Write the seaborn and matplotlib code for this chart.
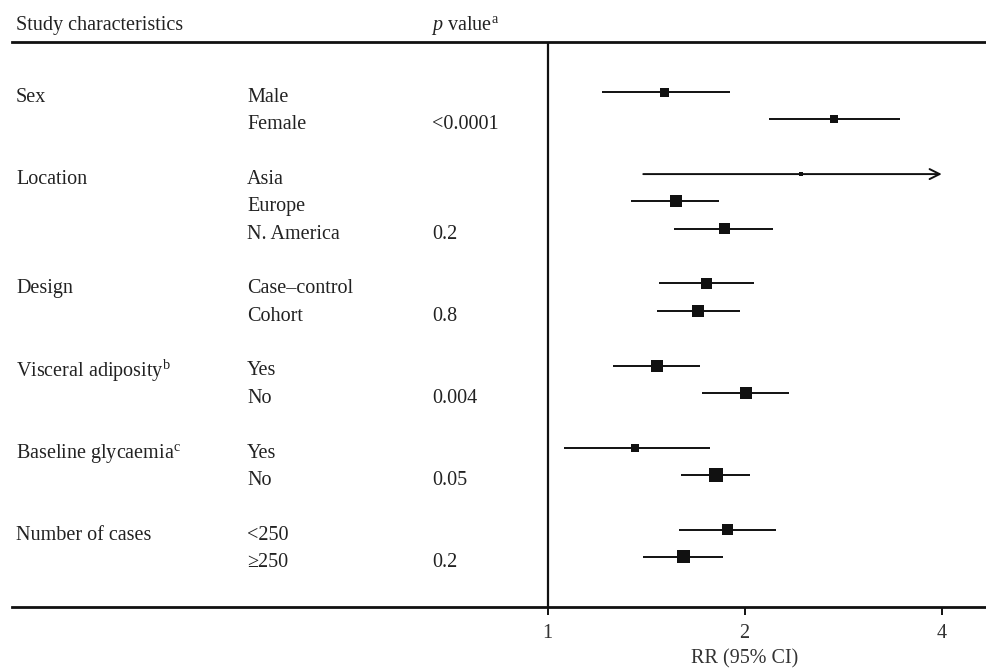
import numpy as np
import pandas as pd
import seaborn as sns
import matplotlib.pyplot as plt
from matplotlib.transforms import blended_transform_factory

sns.set_theme(style='white')
plt.rcParams['font.family'] = ['Liberation Serif', 'DejaVu Serif']
plt.rcParams['mathtext.fontset'] = 'custom'
plt.rcParams['mathtext.rm'] = 'Liberation Serif'
plt.rcParams['mathtext.it'] = 'Liberation Serif:italic'

# groups and subgroups
groups = ['Sex', 'Location', 'Design', 'Visceral adiposity$^{\\rm b}$',
          'Baseline glycaemia$^{\\rm c}$', 'Number of cases']
subgroups = [['Male', 'Female'],
             ['Asia', 'Europe', 'N. America'],
             ['Case\u2013control', 'Cohort'],
             ['Yes', 'No'],
             ['Yes', 'No'],
             ['<250', '\u2265250']]
p_values = ['<0.0001', '0.2', '0.8', '0.004', '0.05', '0.2']

# relative risks with 95% CI
rr = [1.51, 2.74, 2.44, 1.57, 1.86, 1.75, 1.70, 1.47, 2.01, 1.36, 1.81, 1.88, 1.61]
ci_low = [1.21, 2.18, 1.40, 1.34, 1.56, 1.48, 1.47, 1.26, 1.72, 1.06, 1.60, 1.59, 1.40]
ci_high = [1.90, 3.45, 5.20, 1.83, 2.21, 2.07, 1.97, 1.71, 2.34, 1.77, 2.04, 2.23, 1.85]
# box size (study weight), in pixels
box_px = [9, 8, 4, 12, 11, 11, 12, 12, 12, 8, 14, 11, 13]

x_max_shown = 4

# row positions: one blank row between groups
ypos = []
group_first = []
group_last = []
cursor = 0
for subs in subgroups:
    group_first.append(cursor)
    for i in range(len(subs)):
        ypos.append(cursor + i)
    group_last.append(cursor + len(subs) - 1)
    cursor += len(subs) + 1

df = pd.DataFrame({'rr': rr, 'lo': ci_low, 'hi': ci_high, 'y': ypos,
                   'box': box_px})

fig = plt.figure(figsize=(9.87, 6.70), dpi=100)
ax = fig.add_axes([12 / 987, 1 - 607 / 670, 975 / 987, 565 / 670])

ax.set_xscale('log', base=2)
ax.set_xlim(0.152, 4.69)
ax.set_ylim(18.83, -1.83)

ax.axvline(1, color='#111111', lw=1.6, zorder=1)

# confidence intervals
for _, r in df.iterrows():
    if r['hi'] > x_max_shown:
        ax.annotate('', xy=(x_max_shown, r['y']), xytext=(r['lo'], r['y']),
                    arrowprops=dict(arrowstyle='->', color='#111111', lw=1.4,
                                    mutation_scale=18, shrinkA=0, shrinkB=0))
    else:
        ax.hlines(r['y'], r['lo'], r['hi'], color='#111111', lw=1.4)

sns.scatterplot(data=df, x='rr', y='y', marker='s', s=(df['box'] * 0.72) ** 2,
                color='#111111', linewidth=0, ax=ax, zorder=3, legend=False)

# text columns
trans = blended_transform_factory(ax.transAxes, ax.transData)
col_group = 4 / 975
col_sub = 235 / 975
col_p = 420 / 975
fs = 14.5
dy = 0.2
txt = '#222222'
for g, subs, first, last, p in zip(groups, subgroups, group_first, group_last, p_values):
    ax.text(col_group, first + dy, g, transform=trans, fontsize=fs, va='center',
            color=txt)
    for i, s in enumerate(subs):
        ax.text(col_sub, first + i + dy, s, transform=trans, fontsize=fs,
                va='center', color=txt)
    ax.text(col_p, last + dy, p, transform=trans, fontsize=fs, va='center',
            color=txt)

ax.text(col_group, -2.45, 'Study characteristics', transform=trans, fontsize=fs,
        va='center', color=txt)
ax.text(419 / 975, -2.45, '$p$ value$^{\\rm a}$', transform=trans, fontsize=fs,
        va='center', color=txt)

# axes styling
ax.set_xticks([1, 2, 4])
ax.set_xticklabels(['1', '2', '4'])
ax.xaxis.set_minor_locator(plt.NullLocator())
ax.set_yticks([])
ax.tick_params(axis='x', bottom=True, direction='out', length=6, width=1.4,
               labelsize=fs, colors='#111111', labelcolor='#333333', pad=6)
for side in ['left', 'right']:
    ax.spines[side].set_visible(False)
for side in ['top', 'bottom']:
    ax.spines[side].set_linewidth(2.0)
    ax.spines[side].set_color('#111111')
ax.set_xlabel('')
ax.set_ylabel('')
ax.text(2, 1 - 659 / 670, 'RR (95% CI)',
        transform=blended_transform_factory(ax.transData, fig.transFigure),
        fontsize=fs, ha='center', va='center', color='#333333')

fig.savefig('out.png', dpi=100)
